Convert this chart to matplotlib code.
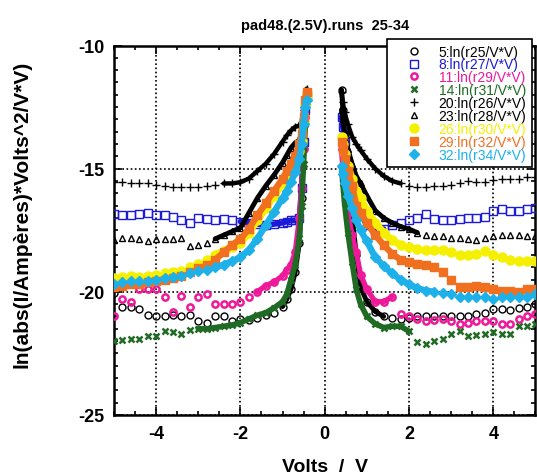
import numpy as np
import matplotlib
matplotlib.use('Agg')
import matplotlib.pyplot as plt
from matplotlib.ticker import MultipleLocator

plt.rcParams['font.family'] = ['Liberation Sans', 'DejaVu Sans']
plt.rcParams['axes.unicode_minus'] = False

# voltages on each side of the gap round 0 V
v_neg = [-5.0, -4.8, -4.6, -4.4, -4.2, -4.0, -3.8, -3.6, -3.4, -3.2, -3.0, -2.8, -2.6, -2.4,
         -2.2, -2.0, -1.8, -1.6, -1.4, -1.2, -1.0, -0.9, -0.8, -0.7, -0.6, -0.55, -0.5, -0.46, -0.43]
v_pos = [0.40, 0.43, 0.47, 0.55, 0.65, 0.75, 0.85, 1.0, 1.2, 1.4, 1.6, 1.8, 2.0, 2.2,
         2.4, 2.6, 2.8, 3.0, 3.2, 3.4, 3.6, 3.8, 4.0, 4.2, 4.4, 4.6, 4.8, 5.0]

labels = ['5:ln(r25/V*V)', '8:ln(r27/V*V)', '11:ln(r29/V*V)', '14:ln(r31/V*V)',
          '20:ln(r26/V*V)', '23:ln(r28/V*V)', '26:ln(r30/V*V)', '29:ln(r32/V*V)',
          '32:ln(r34/V*V)']

r25_neg = [-20.05, -20.6, -20.6, -20.7, -20.95, -21.0, -21.0, -20.95, -21.0, -20.95, -21.2, -21.25,
           -21.0, -21.0, -21.2, -21.1, -21.15, -21.05, -20.95, -20.85, -20.6, -20.3, -19.9, -19.2,
           -18.0, -16.2, -14.0, -12.6, -11.9]
r25_pos = [-11.8, -12.6, -13.6, -15.2, -16.9, -18.5, -19.8, -20.4, -20.8, -21.0, -21.05, -21.1,
           -21.05, -21.0, -21.0, -21.0, -21.0, -21.0, -21.0, -21.0, -20.9, -20.85, -20.7, -20.7,
           -20.75, -20.65, -20.6, -20.5]

r27_neg = [-16.85, -16.9, -16.9, -16.85, -16.8, -16.9, -16.9, -16.95, -17.1, -17.2, -17.0, -17.05,
           -17.1, -17.05, -17.1, -17.15, -17.2, -17.25, -17.3, -17.25, -17.2, -17.15, -17.1, -17.1,
           -17.0, -15.8, -13.9, -12.6, -12.0]
r27_pos = [-12.9, -13.3, -13.9, -14.8, -15.6, -16.3, -16.8, -17.3, -17.55, -17.45, -17.3, -17.2,
           -17.1, -17.0, -16.85, -17.05, -17.1, -17.1, -17.05, -17.0, -17.0, -16.95, -16.7, -16.65,
           -16.7, -16.7, -16.65, -16.6]

r29_neg = [-21.0, -20.3, -20.4, -19.9, -19.9, -19.9, -20.2, -20.8, -20.15, -20.6, -20.2, -20.1,
           -20.5, -20.5, -20.5, -20.4, -20.2, -20.0, -19.75, -19.6, -19.35, -19.1, -18.9, -18.4,
           -17.0, -15.8, -14.2, -12.9, -12.1]
r29_pos = [-14.2, -15.0, -15.8, -16.8, -17.7, -18.4, -19.3, -19.9, -20.4, -20.4, -20.2, -20.9,
           -21.0, -21.1, -21.2, -21.15, -21.1, -21.2, -21.3, -21.25, -21.2, -21.2, -21.2, -21.3,
           -21.3, -21.1, -21.0, -20.9]

r31_neg = [-22.0, -21.95, -21.9, -21.9, -21.8, -21.8, -21.6, -21.65, -21.7, -21.55, -21.5, -21.5,
           -21.45, -21.4, -21.35, -21.25, -21.1, -20.95, -20.85, -20.65, -20.4, -20.1, -19.5, -18.9,
           -17.8, -16.5, -14.8, -13.2, -12.3]
r31_pos = [-15.0, -15.6, -16.4, -17.6, -18.8, -19.9, -20.5, -21.0, -21.3, -21.45, -21.4, -21.4,
           -21.6, -22.05, -22.1, -22.0, -21.9, -21.7, -21.6, -21.8, -21.75, -21.7, -21.65, -21.7,
           -21.7, -21.4, -21.4, -21.3]

r26_neg = [-15.55, -15.55, -15.6, -15.6, -15.6, -15.65, -15.7, -15.75, -15.75, -15.75, -15.75, -15.7,
           -15.65, -15.6, -15.6, -15.55, -15.4, -15.1, -14.8, -14.4, -13.9, -13.65, -13.45, -13.3,
           -13.25, -13.1, -12.6, -12.1, -11.75]
r26_pos = [-11.9, -12.3, -12.7, -13.2, -13.7, -14.0, -14.25, -14.6, -15.0, -15.3, -15.5, -15.6,
           -15.7, -15.75, -15.75, -15.7, -15.7, -15.65, -15.6, -15.5, -15.55, -15.55, -15.45, -15.4,
           -15.4, -15.4, -15.35, -15.35]

r28_neg = [-17.9, -17.8, -17.8, -17.85, -17.95, -17.85, -17.85, -17.85, -17.8, -18.15, -18.1, -18.0,
           -17.85, -17.7, -17.55, -17.4, -16.8, -16.2, -15.7, -15.25, -14.75, -14.45, -14.15, -13.95,
           -13.85, -13.55, -13.0, -12.3, -11.9]
r28_pos = [-12.6, -13.0, -13.5, -14.2, -14.8, -15.3, -15.6, -16.1, -16.7, -17.0, -17.2, -17.35,
           -17.45, -17.6, -17.7, -17.75, -17.75, -17.8, -17.8, -17.85, -17.9, -17.8, -17.75, -17.7,
           -17.7, -17.7, -17.75, -17.75]

r30_neg = [-19.45, -19.4, -19.35, -19.4, -19.35, -19.3, -19.25, -19.2, -19.15, -19.0, -18.85, -18.7,
           -18.5, -18.35, -18.2, -18.0, -17.6, -17.1, -16.6, -16.1, -15.6, -15.3, -15.0, -14.7,
           -14.3, -13.9, -13.1, -12.4, -12.0]
r30_pos = [-13.7, -14.0, -14.4, -14.9, -15.4, -15.9, -16.2, -16.7, -17.2, -17.6, -17.9, -18.1,
           -18.2, -18.25, -18.3, -18.3, -18.3, -18.4, -18.5, -18.5, -18.45, -18.35, -18.5, -18.6,
           -18.7, -18.75, -18.75, -18.75]

r32_neg = [-19.8, -19.75, -19.7, -19.68, -19.6, -19.55, -19.5, -19.45, -19.35, -19.2, -19.05, -18.9,
           -18.7, -18.4, -18.1, -17.85, -17.45, -16.9, -16.4, -15.9, -15.4, -15.1, -14.8, -14.5,
           -14.0, -13.6, -12.9, -12.2, -11.9]
r32_pos = [-13.9, -14.2, -14.6, -15.1, -15.7, -16.5, -16.8, -17.2, -17.7, -18.1, -18.45, -18.7,
           -18.8, -18.85, -18.9, -19.0, -19.2, -19.5, -19.8, -19.8, -19.75, -19.8, -19.9, -19.95,
           -19.95, -20.0, -19.9, -19.9]

r34_neg = [-19.7, -19.6, -19.58, -19.56, -19.55, -19.5, -19.45, -19.4, -19.35, -19.25, -19.15, -19.1,
           -19.0, -18.9, -18.75, -18.6, -18.3, -17.85, -17.3, -16.75, -16.2, -15.9, -15.55, -15.15,
           -14.6, -14.0, -13.2, -12.5, -12.2]
r34_pos = [-14.9, -15.2, -15.6, -16.1, -16.6, -17.1, -17.5, -17.95, -18.6, -18.95, -19.25, -19.5,
           -19.7, -19.85, -19.95, -20.0, -20.05, -20.1, -20.2, -20.2, -20.2, -20.2, -20.3, -20.2,
           -20.2, -20.2, -20.2, -20.1]

neg_series = [r25_neg, r27_neg, r29_neg, r31_neg, r26_neg, r28_neg, r30_neg, r32_neg, r34_neg]
pos_series = [r25_pos, r27_pos, r29_pos, r31_pos, r26_pos, r28_pos, r30_pos, r32_pos, r34_pos]

# marker, colour, filled, size, edge width, band width, dense range on each side
styles = [
    ('o', 'black', False, 5, 1.0, 3.5, -1.0, 1.4),
    ('s', '#1a1ad8', False, 5.5, 1.0, 4.0, -2.1, 1.5),
    ('o', '#f0189a', False, 4.5, 1.8, 3.8, -1.7, 1.6),
    ('x', '#1f6b24', False, 5, 1.8, 4.0, -3.0, 2.0),
    ('+', 'black', False, 6, 1.0, 3.2, -2.4, 1.8),
    ('^', 'black', False, 5, 1.0, 3.5, -2.6, 2.2),
    ('o', '#f5f000', True, 6.5, 1.0, 5.2, -2.6, 1.8),
    ('s', '#f07020', True, 5.5, 1.0, 4.6, -2.6, 2.2),
    ('D', '#1eb0e8', True, 5, 1.0, 4.6, -2.6, 2.6),
]

fig = plt.figure(figsize=(5.37, 4.77), dpi=100)
ax = fig.add_axes([0.2123, 0.1279, 0.7847, 0.7746])

xn = np.array(v_neg)
xp = np.array(v_pos)
handles = []
for i, (mk, col, filled, ms, mew, bw, dl, dr) in enumerate(styles):
    yn = np.array(neg_series[i])
    yp = np.array(pos_series[i])
    for xs, ys, m in [(xn, yn, xn >= dl), (xp, yp, xp <= dr)]:
        ax.plot(xs[m], ys[m], '-', color=col, lw=bw, zorder=3 + i * 0.1,
                solid_capstyle='round')
        h, = ax.plot(xs, ys, ls='none', marker=mk, ms=ms, mew=mew, mec=col,
                     mfc=col if filled else 'none', zorder=3 + i * 0.1)
    handles.append(h)

ax.set_xlim(-5, 5)
ax.set_ylim(-25, -10)
ax.xaxis.set_major_locator(MultipleLocator(2))
ax.xaxis.set_minor_locator(MultipleLocator(0.5))
ax.yaxis.set_major_locator(MultipleLocator(5))
ax.yaxis.set_minor_locator(MultipleLocator(0.5))
ax.tick_params(which='both', direction='in', top=True, right=True, width=1.2)
ax.tick_params(which='major', length=6, labelsize=13, pad=7)
ax.tick_params(which='minor', length=3)
for lab in ax.get_xticklabels() + ax.get_yticklabels():
    lab.set_fontweight('bold')
for sp in ax.spines.values():
    sp.set_linewidth(1.8)
ax.grid(True, which='major', color='black', ls=(0, (1, 1.5)), lw=1.2, zorder=1)
ax.set_axisbelow(True)

ax.set_xlabel('Volts  /  V', fontsize=14, fontweight='bold', labelpad=12)
ax.set_ylabel('ln(abs(I/Ampères)*Volts^2/V*V)', fontsize=15, fontweight='bold')
ax.yaxis.set_label_coords(-0.195, 0.547)
ax.set_title('pad48.(2.5V).runs  25-34', fontsize=10.5, fontweight='bold', pad=12)

leg = ax.legend(handles, labels, loc='upper right', bbox_to_anchor=(532 / 537, 1 - 40 / 477),
                bbox_transform=fig.transFigure, borderaxespad=0, fontsize=10,
                labelspacing=-0.08, handlelength=3.0, handletextpad=0.3, borderpad=0.4,
                numpoints=1, fancybox=False, framealpha=1, edgecolor='black')
leg.get_frame().set_linewidth(1.2)
leg.set_zorder(10)
for txt, st in zip(leg.get_texts(), styles):
    txt.set_color(st[1])

fig.savefig('out.png', dpi=100)
